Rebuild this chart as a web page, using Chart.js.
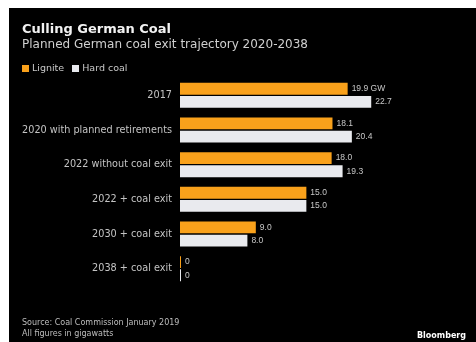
<!DOCTYPE html>
<html>
<head>
<meta charset="utf-8">
<script src="https://cdn.jsdelivr.net/npm/chart.js@4.4.0/dist/chart.umd.min.js"></script>
<style>
  html, body { margin: 0; padding: 0; background: #fff; }
  body { width: 476px; height: 342px; position: relative; overflow: hidden; font-family: "DejaVu Sans", sans-serif; }
  #panel { position: absolute; left: 9px; top: 8px; right: 0; bottom: 0; background: #000; }
  #chart { position: absolute; left: 0; top: 0; }
  .txt { position: absolute; white-space: nowrap; }
  #title { left: 22px; top: 21px; font-size: 13px; font-weight: bold; color: #f2f2f2; }
  #subtitle { left: 22px; top: 37px; font-size: 12px; color: #cfcfcf; }
  #legend { left: 22px; top: 62px; font-size: 9.5px; line-height: 12px; color: #c8c8c8; }
  #legend i { display: inline-block; width: 7px; height: 7px; margin-right: 3px; vertical-align: -1px; }
  #legend span { margin-right: 8px; }
  #source { left: 22px; top: 317px; font-size: 8px; line-height: 11px; color: #bdbdbd; }
  #logo { left: 417px; top: 331px; font-size: 8px; font-weight: bold; color: #fff; }
</style>
</head>
<body>
<div id="panel"></div>
<canvas id="chart" width="476" height="342"></canvas>
<div class="txt" id="title">Culling German Coal</div>
<div class="txt" id="subtitle">Planned German coal exit trajectory 2020-2038</div>
<div class="txt" id="legend"><i style="background:#f9a11b"></i><span>Lignite</span><i style="background:#e9eaee"></i>Hard coal</div>
<div class="txt" id="source">Source: Coal Commission January 2019<br>All figures in gigawatts</div>
<div class="txt" id="logo">Bloomberg</div>
<script>
// capacity in GW
const categories = [
  "2017",
  "2020 with planned retirements",
  "2022 without coal exit",
  "2022 + coal exit",
  "2030 + coal exit",
  "2038 + coal exit"
];
const lignite = [19.9, 18.1, 18.0, 15.0, 9.0, 0];
const hardCoal = [22.7, 20.4, 19.3, 15.0, 8.0, 0];

const ligniteColor = "#f9a11b";
const hardCoalColor = "#e9eaee";

function fmt(v) {
  return v === 0 ? "0" : v.toFixed(1);
}

// value text to the right of each bar
const valueLabels = {
  id: "valueLabels",
  afterDatasetsDraw(chart) {
    const ctx = chart.ctx;
    ctx.save();
    ctx.font = "8.5px 'Liberation Sans', Arial, sans-serif";
    ctx.fillStyle = "#c8c8c8";
    ctx.textBaseline = "middle";
    ctx.textAlign = "left";
    chart.data.datasets.forEach(function (ds, di) {
      chart.getDatasetMeta(di).data.forEach(function (bar, i) {
        let txt = fmt(ds.data[i]);
        if (di === 0 && i === 0) {
          txt += " GW";
        }
        ctx.fillText(txt, bar.x + 4, bar.y);
      });
    });
    ctx.restore();
  }
};

const chartdata = {
  labels: categories,
  datasets: [
    {
      label: "Lignite",
      backgroundColor: ligniteColor,
      data: lignite,
      minBarLength: 1
    },
    {
      label: "Hard coal",
      backgroundColor: hardCoalColor,
      data: hardCoal,
      minBarLength: 1
    }
  ]
};

const config = {
  type: "bar",
  data: chartdata,
  options: {
    indexAxis: "y",
    responsive: false,
    animation: false,
    datasets: {
      bar: {
        categoryPercentage: 0.76,
        barPercentage: 0.9
      }
    },
    layout: {
      padding: { top: 78, bottom: 56, left: 0, right: 18 }
    },
    scales: {
      x: {
        display: false,
        min: 0,
        max: 33
      },
      y: {
        grid: { display: false },
        border: { display: false },
        ticks: {
          color: "#c4c4c4",
          padding: 0,
          font: { size: 9.7, family: "'DejaVu Sans', sans-serif" }
        },
        afterFit: function (scale) {
          scale.width = 180;
        }
      }
    },
    plugins: {
      legend: { display: false },
      tooltip: { enabled: false }
    }
  },
  plugins: [valueLabels]
};

new Chart(document.getElementById("chart"), config);
</script>
</body>
</html>
